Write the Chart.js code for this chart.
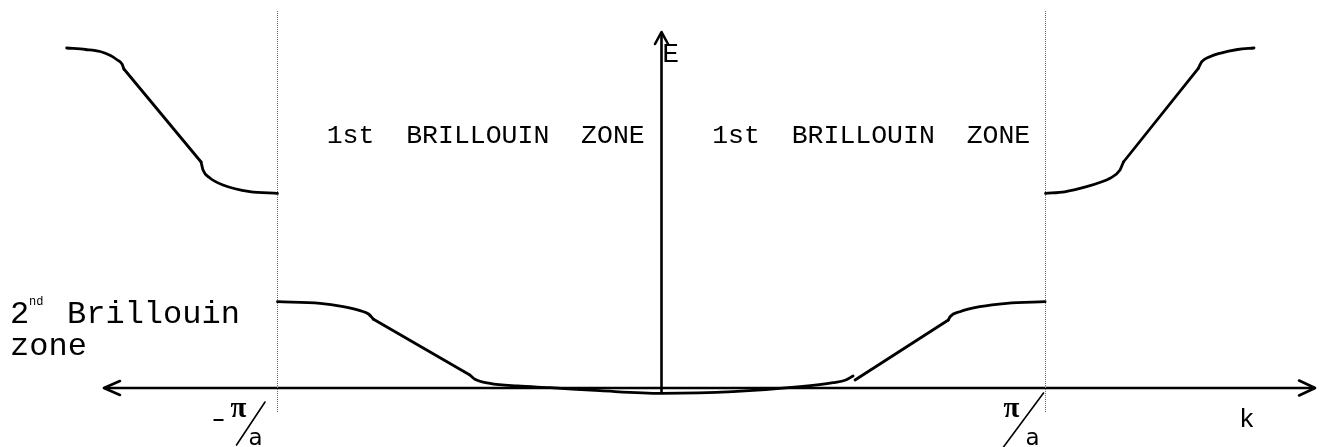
<!DOCTYPE html>
<html>
<head>
<meta charset="utf-8">
<script src="https://cdn.jsdelivr.net/npm/chart.js@4/dist/chart.umd.min.js"></script>
<style>
html,body{margin:0;padding:0;background:#fff;}
canvas{display:block;}
</style>
</head>
<body>
<canvas id="c" width="1328" height="447"></canvas>
<script>
// k in units of pi/a, E in arbitrary energy units
const upperLeftOuter  = [[-1.549,3.40],[-1.50,3.385],[-1.462,3.365],[-1.435,3.325],[-1.419,3.285],[-1.405,3.24],[-1.400,3.19]];
const upperLeftLine   = [[-1.400,3.19],[-1.199,2.26]];
const upperLeftInner  = [[-1.199,2.26],[-1.194,2.18],[-1.176,2.10],[-1.142,2.03],[-1.072,1.963],[-1.0,1.947]];
const upperRightInner = [[1.0,1.947],[1.05,1.962],[1.107,2.013],[1.145,2.06],[1.168,2.097],[1.194,2.18],[1.203,2.26]];
const upperRightLine  = [[1.203,2.26],[1.398,3.197]];
const upperRightOuter = [[1.398,3.197],[1.407,3.263],[1.428,3.313],[1.454,3.347],[1.50,3.385],[1.543,3.40]];
const lowerLeftOuter  = [[-1.0,0.863],[-0.889,0.847],[-0.829,0.813],[-0.785,0.773],[-0.763,0.74],[-0.750,0.687]];
const lowerLeftLine   = [[-0.750,0.687],[-0.499,0.13]];
const lowerBottom     = [[-0.499,0.13],[-0.486,0.087],[-0.447,0.047],[-0.375,0.02],[-0.290,0.003],[-0.160,-0.027],[0,-0.053],[0.186,-0.037],[0.361,0.013],[0.447,0.053],[0.48,0.08],[0.499,0.12]];
const lowerRightLine  = [[0.504,0.08],[0.747,0.68]];
const lowerRightOuter = [[0.747,0.68],[0.752,0.715],[0.777,0.763],[0.829,0.813],[0.899,0.847],[0.999,0.863]];
const zoneBoundaryK   = [-1, 1];
const zoneBoundaryE   = [-0.24, 3.78];
const kAxisRange      = [-1.452, 1.702];
const eAxisRange      = [-0.05, 3.56];
const zoneLabel       = '1st  BRILLOUIN  ZONE';
const secondZoneLabel = ['Brillouin', 'zone'];

const toPts = arr => arr.map(p => ({x: p[0], y: p[1]}));

function curve(arr, mono) {
  return {
    data: toPts(arr), showLine: true, pointRadius: 0, borderColor: '#000',
    borderWidth: 2.8, borderCapStyle: 'round', borderJoinStyle: 'round',
    cubicInterpolationMode: mono ? 'monotone' : 'default', tension: 0, fill: false
  };
}

const datasets = [];
[upperLeftOuter, upperLeftInner, upperRightInner, upperRightOuter,
 lowerLeftOuter, lowerBottom, lowerRightOuter].forEach(a => datasets.push(curve(a, true)));
[upperLeftLine, upperRightLine, lowerLeftLine, lowerRightLine].forEach(a => datasets.push(curve(a, false)));

zoneBoundaryK.forEach(k => datasets.push({
  data: [{x: k, y: zoneBoundaryE[0]}, {x: k, y: zoneBoundaryE[1]}],
  showLine: true, pointRadius: 0, borderColor: '#666', borderWidth: 1, borderDash: [1, 1]
}));
datasets.push({data: [{x: kAxisRange[0], y: 0}, {x: kAxisRange[1], y: 0}],
  showLine: true, pointRadius: 0, borderColor: '#000', borderWidth: 2.6});
datasets.push({data: [{x: 0, y: eAxisRange[0]}, {x: 0, y: eAxisRange[1]}],
  showLine: true, pointRadius: 0, borderColor: '#000', borderWidth: 2.6});

const annotate = {
  id: 'annotate',
  afterDatasetsDraw(chart) {
    const ctx = chart.ctx, xs = chart.scales.x, ys = chart.scales.y;
    const X = v => xs.getPixelForValue(v), Y = v => ys.getPixelForValue(v);
    ctx.save();
    ctx.strokeStyle = '#000'; ctx.fillStyle = '#000';
    ctx.lineWidth = 2.6; ctx.lineCap = 'round'; ctx.lineJoin = 'round';
    // arrowheads
    const y0 = Y(0);
    let xl = X(kAxisRange[0]), xr = X(kAxisRange[1]), yt = Y(eAxisRange[1]), x0 = X(0);
    ctx.beginPath();
    ctx.moveTo(xl + 16, y0 - 7); ctx.lineTo(xl, y0); ctx.lineTo(xl + 16, y0 + 7);
    ctx.moveTo(xr - 16, y0 - 7.5); ctx.lineTo(xr, y0); ctx.lineTo(xr - 16, y0 + 7.5);
    ctx.moveTo(x0 - 6.5, yt + 12); ctx.lineTo(x0, yt); ctx.lineTo(x0 + 6.5, yt + 12);
    ctx.stroke();

    ctx.textBaseline = 'alphabetic'; ctx.textAlign = 'left';
    // zone labels
    ctx.font = '26.5px "Liberation Mono", monospace';
    ctx.fillText(zoneLabel, X(-0.872), Y(2.45));
    ctx.fillText(zoneLabel, X(0.132), Y(2.45));
    // axis labels
    ctx.font = '28px "Liberation Mono", monospace';
    ctx.fillText('E', X(0.002), Y(3.26));
    ctx.font = '26px "Liberation Mono", monospace';
    ctx.fillText('k', X(1.504), Y(-0.39));
    // 2nd Brillouin zone
    const lx = X(-1.6966);
    ctx.font = '32px "Liberation Mono", monospace';
    ctx.fillText('2', lx, Y(0.65));
    ctx.font = '12px "Liberation Mono", monospace';
    ctx.fillText('nd', lx + 19, Y(0.65) - 18);
    ctx.font = '32px "Liberation Mono", monospace';
    ctx.fillText(secondZoneLabel[0], lx + 57, Y(0.65));
    ctx.fillText(secondZoneLabel[1], lx, Y(0.33));

    // -pi/a and pi/a
    const ybase = Y(0);
    const piFrac = (cx, minus, slashTop, slashBot, piLeft, aLeft) => {
      if (minus) {
        ctx.lineWidth = 2;
        ctx.lineCap = 'butt';
        ctx.beginPath(); ctx.moveTo(cx - 64, ybase + 32); ctx.lineTo(cx - 54, ybase + 32); ctx.stroke();
      }
      ctx.font = 'bold 29px "Liberation Serif", serif';
      ctx.fillText('\u03c0', cx + piLeft, ybase + 29);
      ctx.lineWidth = 1.6;
      ctx.lineCap = 'round';
      ctx.beginPath(); ctx.moveTo(cx + slashTop[0], ybase + slashTop[1]);
      ctx.lineTo(cx + slashBot[0], ybase + slashBot[1]); ctx.stroke();
      ctx.font = '23px "DejaVu Sans", sans-serif';
      ctx.fillText('a', cx + aLeft, ybase + 57);
    };
    piFrac(X(-1), true, [-12.5, 14], [-41, 57], -47, -29);
    piFrac(X(1), false, [-2, 5], [-42, 59], -42, -20);
    ctx.restore();
  }
};

new Chart(document.getElementById('c'), {
  type: 'scatter',
  data: {datasets},
  options: {
    responsive: false, animation: false, devicePixelRatio: 1,
    layout: {padding: 0},
    scales: {
      x: {type: 'linear', min: -1.7227, max: 1.7357, display: false},
      y: {type: 'linear', min: -0.59, max: 3.88, display: false}
    },
    plugins: {legend: {display: false}, tooltip: {enabled: false}}
  },
  plugins: [annotate]
});
</script>
</body>
</html>
